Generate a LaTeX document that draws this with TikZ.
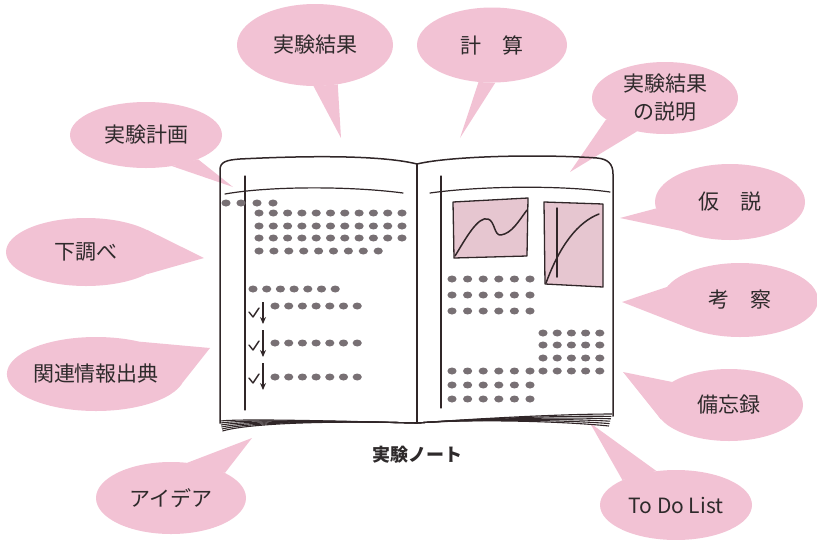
\documentclass[tikz,border=0pt]{standalone}
\usepackage{fontspec}
\setmainfont{Noto Sans CJK JP}
\usetikzlibrary{shapes.geometric,backgrounds,arrows.meta}

\definecolor{bubblepink}{HTML}{F2C2D4}
\definecolor{inkline}{HTML}{302628}
\definecolor{dotgray}{HTML}{787074}
\definecolor{plotfill}{HTML}{E6C6D0}
\definecolor{labeltext}{HTML}{2E2A2B}

\begin{document}
\begin{tikzpicture}[x=1pt,y=-1pt,
  bubble/.style={ellipse, fill=bubblepink, inner sep=0pt, text=labeltext,
    font=\fontsize{21}{28}\selectfont, align=center},
  tail/.style={fill=bubblepink},
  ink/.style={draw=inkline, line width=1.5pt, line cap=round, line join=round},
  thinink/.style={draw=inkline, line width=1.2pt, line cap=round, line join=round},
  dot/.style={fill=dotgray},
  plotbox/.style={fill=plotfill, draw=inkline, line width=1.3pt, line join=round}]

\useasboundingbox (0,0) rectangle (817,539);

% ---------- speech bubbles ----------
\node[bubble, minimum width=156pt, minimum height=82pt] (res)  at (315,45)  {実験結果};
\node[bubble, minimum width=150pt, minimum height=75pt] (calc) at (492,45)  {計\hspace{1em}算};
\node[bubble, minimum width=146pt, minimum height=72pt] (expl) at (665,98)  {実験結果\\の説明};
\node[bubble, minimum width=150pt, minimum height=76pt] (hyp)  at (730,202) {仮\hspace{1em}説};
\node[bubble, minimum width=156pt, minimum height=74pt] (disc) at (740,300) {考\hspace{1em}察};
\node[bubble, minimum width=148pt, minimum height=72pt] (memo) at (729,405) {備忘録};
\node[bubble, minimum width=152pt, minimum height=70pt] (todo) at (676,505) {To Do List};
\node[bubble, minimum width=150pt, minimum height=72pt] (idea) at (171,498) {アイデア};
\node[bubble, minimum width=150pt, minimum height=74pt] (refs) at (96,374)  {関連情報出典};
\node[bubble, minimum width=160pt, minimum height=68pt] (prep) at (86,252)  {下調べ};
\node[bubble, minimum width=152pt, minimum height=66pt] (plan) at (146,135) {実験計画};

% tips of the bubble tails, pointing into the notebook
\coordinate (res-tip)  at (341,138);
\coordinate (calc-tip) at (460,138);
\coordinate (expl-tip) at (570,172);
\coordinate (hyp-tip)  at (620,218);
\coordinate (disc-tip) at (622,302);
\coordinate (memo-tip) at (623,372);
\coordinate (todo-tip) at (590,423);
\coordinate (idea-tip) at (252,438);
\coordinate (refs-tip) at (210,348);
\coordinate (prep-tip) at (204,258);
\coordinate (plan-tip) at (233,187);

\begin{scope}[on background layer]
  \fill[tail] (res.268)  -- (res-tip)  -- (res.300)  -- cycle;
  \fill[tail] (calc.250) -- (calc-tip) -- (calc.275) -- cycle;
  \fill[tail] (expl.200) -- (expl-tip) -- (expl.230) -- cycle;
  \fill[tail] (hyp.185)  -- (hyp-tip)  -- (hyp.210)  -- cycle;
  \fill[tail] (disc.170) -- (disc-tip) -- (disc.208) -- cycle;
  \fill[tail] (memo.158) -- (memo-tip) -- (memo.192) -- cycle;
  \fill[tail] (todo.120) -- (todo-tip) -- (todo.155) -- cycle;
  \fill[tail] (idea.25)  -- (idea-tip) -- (idea.65)  -- cycle;
  \fill[tail] (refs.-5)  -- (refs-tip) -- (refs.36)  -- cycle;
  \fill[tail] (prep.-20) -- (prep-tip) -- (prep.20)  -- cycle;
  \fill[tail] (plan.-50) -- (plan-tip) -- (plan.-25) -- cycle;
\end{scope}

% ---------- notebook ----------
% page outlines and spine
\draw[ink] (220,423) -- (220,170) .. controls (220,162) and (226,160) .. (240,159)
           .. controls (320,155) and (385,156) .. (417,164);
\draw[ink] (417,164) .. controls (450,156) and (540,154) .. (597,158)
           .. controls (608,159) and (613,164) .. (613,174) -- (613,416);
\draw[ink] (417,164) -- (417,423);

% stacked page edges along the bottom
\foreach \k in {0,...,5}{
  \draw[inkline, line width=1.1pt]
    ({220+0.5*\k},{421+2*\k}) .. controls (240,{419+1.3*\k}) and (300,420) .. (417,423);
  \draw[inkline, line width=1.1pt]
    (417,423) .. controls (470,419) and (560,{414+1.4*\k}) .. ({612-0.6*\k},{414+2.4*\k});
}

% margin and header rules
\draw[thinink] (245,176) -- (245,410);
\draw[thinink] (441,176) -- (441,408);
\draw[thinink] (225,194) .. controls (270,186) and (350,186) .. (403,193);
\draw[thinink] (430,193) .. controls (480,186) and (560,185) .. (610,192);

% left page: lines of text
\tikzset{dotrx/.style={x radius=4.6pt, y radius=3.5pt}}
\foreach \x in {226,241,257,273}
  \fill[dot] (\x,203) ellipse [dotrx];
\foreach \y in {213,226,238}
  \foreach \i in {0,...,10}
    \fill[dot] ({259+14.3*\i},\y) ellipse [dotrx];
\foreach \i in {0,...,8}
  \fill[dot] ({259+14.9*\i},251) ellipse [dotrx];
\foreach \i in {0,...,6}
  \fill[dot] ({253+13.7*\i},289) ellipse [dotrx];
\foreach \y in {306,343,377}
  \foreach \i in {0,...,6}
    \fill[dot] ({275+13.7*\i},\y) ellipse [dotrx];

% left page: checked steps with arrows
\foreach \a/\b/\c in {302/324/317, 330/357/350, 363/390/383}{
  \draw[inkline, line width=1.4pt, line cap=round, line join=round]
    (249,{\c-5}) -- (253,\c) -- (259,{\c-9});
  \draw[inkline, line width=1.4pt, -{Stealth[length=7pt,width=6pt]}] (263,\a) -- (263,\b);
}

% right page: plots
\filldraw[plotbox] (453,202) -- (528,198) -- (527,256) -- (454,258) -- cycle;
\draw[ink] (455,256) .. controls (466,238) and (478,216) .. (488,219)
           .. controls (495,221) and (494,236) .. (501,235)
           .. controls (512,233) and (518,222) .. (527,210);
\filldraw[plotbox] (544,202) -- (603,204) -- (603,287) -- (545,284) -- cycle;
\draw[ink] (557,208) -- (557,277);
\draw[ink] (546,283) .. controls (560,245) and (578,222) .. (599,214);

% right page: lines of text
\foreach \y in {279,295,311}
  \foreach \i in {0,...,5}
    \fill[dot] ({452+15.6*\i},\y) ellipse [dotrx];
\foreach \y in {333,345,358,371}
  \foreach \i in {0,...,4}
    \fill[dot] ({543+14.2*\i},\y) ellipse [dotrx];
\foreach \y in {371,385,399}
  \foreach \i in {0,...,5}
    \fill[dot] ({452+15.6*\i},\y) ellipse [dotrx];

% caption
\node[font=\bfseries\fontsize{18}{20}\selectfont, text=labeltext] (title) at (417,455) {実験ノート};

\end{tikzpicture}
\end{document}
